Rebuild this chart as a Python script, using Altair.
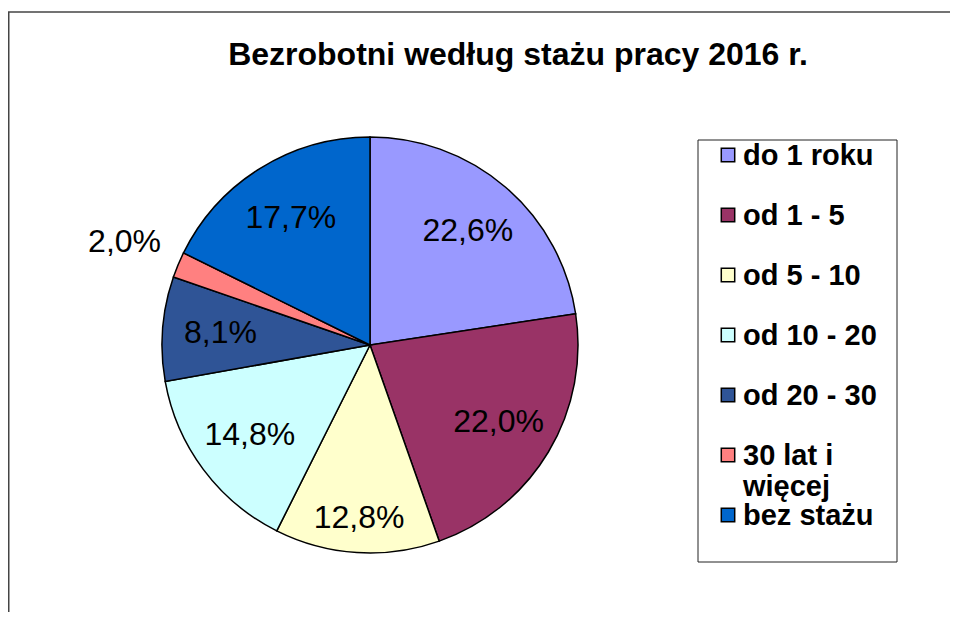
import altair as alt
import pandas as pd

title_text = "Bezrobotni według stażu pracy 2016 r."
categories = ["do 1 roku", "od 1 - 5", "od 5 - 10", "od 10 - 20", "od 20 - 30", "30 lat i więcej", "bez stażu"]
values = [22.6, 22.0, 12.8, 14.8, 8.1, 2.0, 17.7]
colors = ["#9999FF", "#993366", "#FFFFCC", "#CCFFFF", "#2F5496", "#FF8080", "#0066CC"]

FONT = "Liberation Sans"

df = pd.DataFrame({"category": categories, "value": values, "idx": list(range(len(categories)))})
one = pd.DataFrame({"t": [title_text]})

W, H = 942, 604
CX, CY, R = 362, 337, 208

color_scale = alt.Scale(domain=categories, range=colors)

border_top = alt.Chart(one).mark_rule(color="#444", strokeWidth=1.5).encode(
    x=alt.value(0), x2=alt.value(W), y=alt.value(4)
)
border_left = alt.Chart(one).mark_rule(color="#444", strokeWidth=1.5).encode(
    x=alt.value(0.75), y=alt.value(4), y2=alt.value(H)
)

legend_box = alt.Chart(one).mark_rect(fill="white", stroke="#222", strokeWidth=1).encode(
    x=alt.value(690), x2=alt.value(889), y=alt.value(132), y2=alt.value(554)
)

pie = alt.Chart(df).mark_arc(stroke="black", strokeWidth=1.5).encode(
    theta=alt.Theta("value:Q", stack=True),
    order=alt.Order("idx:Q"),
    color=alt.Color("category:N", scale=color_scale, legend=None),
    x=alt.value(CX), y=alt.value(CY), radius=alt.value(R),
)

labels = alt.Chart(df).transform_window(
    cum="sum(value)", sort=[alt.SortField("idx")], frame=[None, 0]
).transform_joinaggregate(
    total="sum(value)"
).transform_calculate(
    label="replace(format(datum.value, '.1f'), '.', ',') + '%'",
    ang="2 * PI * (datum.cum - datum.value / 2) / datum.total",
    lr="datum.value < 5 ? 266 : (datum.value > 12 && datum.value < 13 ? 173 : 150)",
).mark_text(font=FONT, fontSize=32, color="black", align="center", baseline="middle").encode(
    theta=alt.Theta("ang:Q", scale=None),
    radius=alt.Radius("lr:Q", scale=None),
    x=alt.value(CX), y=alt.value(CY),
    text="label:N",
)

leg_y = alt.Y("category:N", scale=alt.Scale(type="point", domain=categories, range=[147, 507], padding=0), axis=None)

leg_sq = alt.Chart(df).mark_square(size=180, stroke="black", strokeWidth=1.5, opacity=1, filled=True).encode(
    x=alt.value(720), y=leg_y,
    color=alt.Color("category:N", scale=color_scale, legend=None),
)

leg_txt = alt.Chart(df).transform_calculate(
    lbl="replace(datum.category, 'lat i ', 'lat i\\n')"
).mark_text(font=FONT, fontSize=29, fontWeight="bold", align="left", baseline="alphabetic",
            dy=10, lineBreak="\n", lineHeight=31, color="black").encode(
    x=alt.value(735), y=leg_y, text="lbl:N"
)

title = alt.Chart(one).mark_text(font=FONT, fontSize=32, fontWeight="bold", align="center",
                                 baseline="middle", color="black").encode(
    x=alt.value(510), y=alt.value(47), text="t:N"
)

chart = alt.layer(border_top, border_left, legend_box, pie, labels, leg_sq, leg_txt, title).properties(
    width=W, height=H, autosize="none", padding=0
).configure_view(stroke=None)

chart.save("out.html", embed_options={"renderer": "svg", "actions": False})
